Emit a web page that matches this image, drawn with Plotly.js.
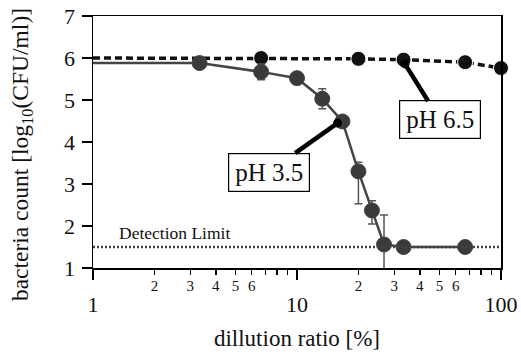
<!DOCTYPE html>
<html>
<head>
<meta charset="utf-8">
<script src="https://cdn.plot.ly/plotly-3.0.1.min.js"></script>
<style>html,body{margin:0;padding:0;background:#fff;}#chart{width:521px;height:352px;}</style>
</head>
<body>
<div id="chart"></div>
<script>
// pH 3.5 series (first entry = start of curve at left axis, no marker)
const ph35X = [1, 3.33, 6.67, 10, 13.3, 16.7, 20, 23.3, 26.7, 33.3, 66.7];
const ph35Y = [5.88, 5.88, 5.67, 5.52, 5.03, 4.49, 3.30, 2.37, 1.56, 1.50, 1.50];
const ph35ErrPlus  = [0, 0, 0.19, 0, 0.24, 0, 0.22, 0.23, 0.70, 0, 0];
const ph35ErrMinus = [0, 0, 0.19, 0, 0.24, 0, 0.77, 0.32, 0.84, 0, 0];
const ph35MarkerSizes = [0, 15, 15, 15, 15, 15, 15, 15, 15, 15, 15];

// pH 6.5 series (first entry = start of curve at left axis, no marker)
const ph65X = [1, 6.67, 20, 33.3, 66.7, 100];
const ph65Y = [6.00, 6.00, 5.98, 5.96, 5.90, 5.76];
const ph65MarkerSizes = [0, 15, 15, 15, 15, 15];

// detection limit
const detectionX = [1, 100];
const detectionY = [1.5, 1.5];

// ticks
const xMajorTicks = [1, 10, 100];
const xMajorLabels = ['1', '10', '100'];
const xMinorTicks = [2,3,4,5,6,7,8,9,20,30,40,50,60,70,80,90];
const xMinorLabelVals = [2,3,4,5,6,20,30,40,50,60];
const xMinorLabels = ['2','3','4','5','6','2','3','4','5','6'];

const serif = 'Liberation Serif, Times New Roman, serif';

const traces = [
  {
    x: detectionX, y: detectionY, xaxis: 'x2', yaxis: 'y',
    mode: 'lines', line: {color: '#444', width: 2.5, dash: '2px,2px'},
    hoverinfo: 'skip', showlegend: false
  },
  {
    x: ph65X, y: ph65Y, mode: 'lines+markers',
    line: {color: '#111', width: 3.5, dash: '7px,4px'},
    marker: {color: '#111', size: ph65MarkerSizes, opacity: 1},
    showlegend: false, cliponaxis: false
  },
  {
    x: ph35X, y: ph35Y, mode: 'lines+markers',
    line: {color: '#444', width: 2.5},
    marker: {color: '#3a3a3a', size: ph35MarkerSizes, opacity: 1},
    error_y: {type: 'data', symmetric: false, array: ph35ErrPlus, arrayminus: ph35ErrMinus,
              color: '#555', thickness: 1.5, width: 4},
    showlegend: false, cliponaxis: false
  }
];

const layout = {
  width: 521, height: 352,
  margin: {l: 93, r: 20, t: 16, b: 84},
  paper_bgcolor: '#fff', plot_bgcolor: '#fff',
  font: {family: serif, color: '#111'},
  showlegend: false,
  xaxis: {
    type: 'log', range: [0, 2],
    tickmode: 'array', tickvals: xMajorTicks, ticktext: xMajorLabels,
    ticks: 'outside', ticklen: 10, tickwidth: 1.5, tickcolor: '#000',
    minor: {tickmode: 'array', tickvals: xMinorTicks, ticks: 'outside', ticklen: 5, tickwidth: 1.5, tickcolor: '#000', showgrid: false},
    tickfont: {family: serif, size: 22, color: '#111'},
    ticklabelstandoff: 6,
    showline: true, linewidth: 1.5, linecolor: '#000', mirror: true,
    showgrid: false, zeroline: false,
    title: {text: 'dillution ratio [%]', font: {family: serif, size: 23, color: '#111'}, standoff: 14}
  },
  xaxis2: {
    type: 'log', range: [0, 2], overlaying: 'x', anchor: 'y', side: 'bottom',
    tickmode: 'array', tickvals: xMinorLabelVals, ticktext: xMinorLabels,
    ticks: '', showline: false, showgrid: false, zeroline: false,
    tickfont: {family: serif, size: 15, color: '#111'},
    ticklabelstandoff: 7
  },
  yaxis: {
    range: [1, 7], dtick: 1, tick0: 1,
    ticks: 'outside', ticklen: 10, tickwidth: 1.5, tickcolor: '#000',
    tickfont: {family: serif, size: 22, color: '#111'},
    ticklabelstandoff: 2,
    showline: true, linewidth: 1.5, linecolor: '#000', mirror: true,
    showgrid: false, zeroline: false
  },
  annotations: [
    {
      x: -0.174, y: 0.448, xref: 'paper', yref: 'paper',
      text: 'bacteria count [log<sub>10</sub>(CFU/ml)]', textangle: -90,
      showarrow: false, xanchor: 'center', yanchor: 'middle',
      font: {family: serif, size: 23.5, color: '#111'}
    },
    {
      x: Math.log10(1.31), y: 1.5, xref: 'x', yref: 'y', text: 'Detection Limit',
      showarrow: false, xanchor: 'left', yanchor: 'bottom', yshift: 2,
      font: {family: serif, size: 17.5, color: '#111'}
    },
    {
      x: Math.log10(15.8), y: 4.45, xref: 'x', yref: 'y', text: 'pH 3.5',
      showarrow: true, arrowhead: 6, arrowsize: 0.5, arrowwidth: 4.5, arrowcolor: '#000',
      ax: -69, ay: 49, bgcolor: '#fff', bordercolor: '#000', borderwidth: 1.2,
      width: 76, height: 33, borderpad: 2,
      font: {family: serif, size: 25, color: '#111'}
    },
    {
      x: Math.log10(33.8), y: 5.86, xref: 'x', yref: 'y', text: 'pH 6.5',
      showarrow: true, arrowhead: 6, arrowsize: 0.5, arrowwidth: 4.5, arrowcolor: '#000',
      ax: 35, ay: 56, bgcolor: '#fff', bordercolor: '#000', borderwidth: 1.2,
      width: 76, height: 33, borderpad: 2,
      font: {family: serif, size: 25, color: '#111'}
    }
  ]
};

Plotly.newPlot('chart', traces, layout, {displayModeBar: false, staticPlot: true});
</script>
</body>
</html>
